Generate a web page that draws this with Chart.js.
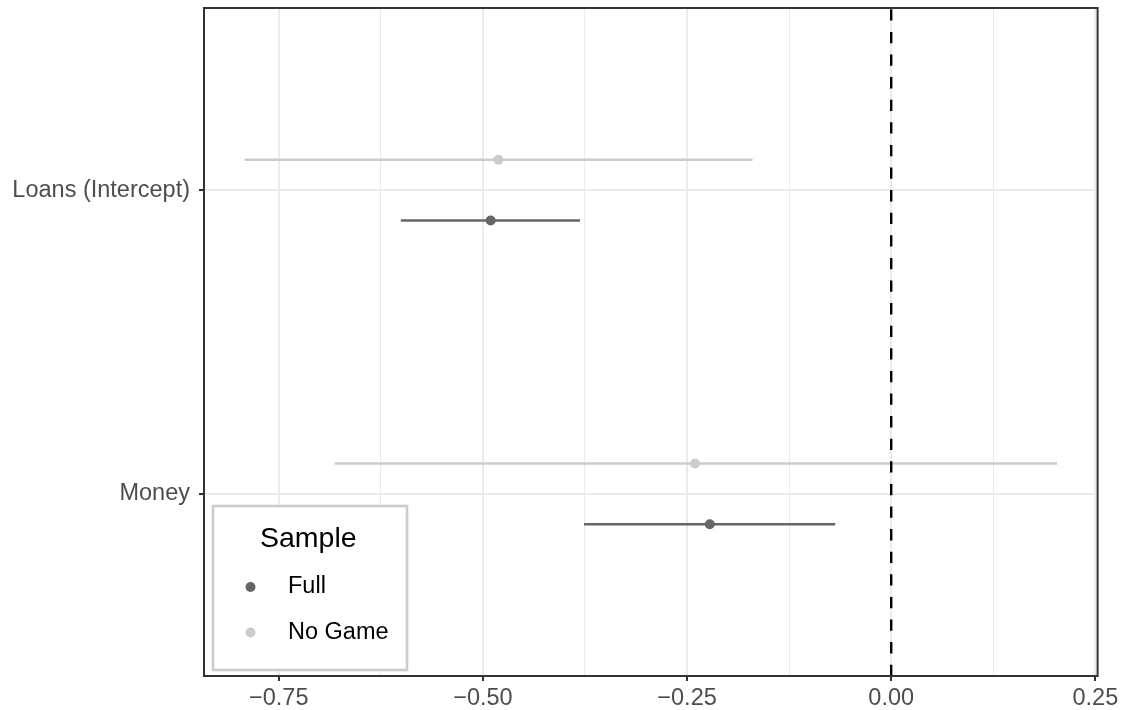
<!DOCTYPE html>
<html>
<head>
<meta charset="utf-8">
<script src="https://cdn.jsdelivr.net/npm/chart.js@4/dist/chart.umd.min.js"></script>
<style>
  html, body { margin: 0; padding: 0; background: #ffffff; }
  #wrap { width: 1122px; height: 710px; position: relative; }
</style>
</head>
<body>
<div id="wrap"><canvas id="chart" width="1122" height="710"></canvas></div>
<script>
// Model terms (top to bottom) and the two samples compared
const terms = ['Loans (Intercept)', 'Money'];
const samples = ['Full', 'No Game'];
const sampleColors = ['#666666', '#cccccc'];

// Estimates with lower / upper interval bounds, one entry per term
const fullEstimate = [-0.4905, -0.2222];
const fullLower = [-0.6005, -0.3762];
const fullUpper = [-0.3811, -0.0686];

const noGameEstimate = [-0.4812, -0.2402];
const noGameLower = [-0.7918, -0.6816];
const noGameUpper = [-0.1698, 0.2030];

// Axis ticks
const xMajorTicks = [-0.75, -0.5, -0.25, 0, 0.25];
const xMinorTicks = [-0.625, -0.375, -0.125, 0.125];
const referenceLine = 0;

const FONT = "'Liberation Sans', Arial, Helvetica, sans-serif";
const DODGE = 0.1;
const PANEL_LEFT = 204;
const PANEL_WIDTH = 893.6;
const POINT_RADIUS = 5;

function seriesPoints(est, lo, hi, shift) {
  return terms.map((t, i) => ({ x: est[i], y: i + 1 + shift, lo: lo[i], hi: hi[i] }));
}

// x range: data extent padded by 5% on both sides
const allLo = Math.min(...fullLower, ...noGameLower);
const allHi = Math.max(...fullUpper, ...noGameUpper);
const span = allHi - allLo;
const xMin = allLo - span * 0.05;
const xMax = allHi + span * 0.05;

const isMajor = v => xMajorTicks.some(t => Math.abs(t - v) < 1e-9);

// Horizontal interval segments behind the points
const intervalPlugin = {
  id: 'intervals',
  beforeDatasetsDraw(chart) {
    const { ctx, chartArea: a, scales: { x, y } } = chart;
    ctx.save();
    ctx.beginPath();
    ctx.rect(a.left, a.top, a.right - a.left, a.bottom - a.top);
    ctx.clip();
    chart.data.datasets.forEach(ds => {
      ctx.strokeStyle = ds.backgroundColor;
      ctx.lineWidth = 2.6;
      ctx.lineCap = 'butt';
      ds.data.forEach(p => {
        const py = y.getPixelForValue(p.y);
        ctx.beginPath();
        ctx.moveTo(x.getPixelForValue(p.lo), py);
        ctx.lineTo(x.getPixelForValue(p.hi), py);
        ctx.stroke();
      });
    });
    ctx.restore();
  }
};

// Dashed reference line, legend box and panel border on top
const overlayPlugin = {
  id: 'overlay',
  afterDatasetsDraw(chart) {
    const { ctx, chartArea: a, scales: { x } } = chart;
    ctx.save();

    // dashed zero line
    const zx = x.getPixelForValue(referenceLine);
    ctx.strokeStyle = '#000000';
    ctx.lineWidth = 2.4;
    ctx.setLineDash([11.3, 11.3]);
    ctx.beginPath();
    ctx.moveTo(zx, a.bottom);
    ctx.lineTo(zx, a.top);
    ctx.stroke();
    ctx.setLineDash([]);

    // legend
    const lx = a.left + 9, ly = a.bottom - 170, lw = 194, lh = 164;
    ctx.fillStyle = '#ffffff';
    ctx.fillRect(lx, ly, lw, lh);
    ctx.strokeStyle = '#cccccc';
    ctx.lineWidth = 2.7;
    ctx.strokeRect(lx, ly, lw, lh);

    ctx.fillStyle = '#000000';
    ctx.font = `28.5px ${FONT}`;
    ctx.textAlign = 'left';
    ctx.textBaseline = 'middle';
    ctx.fillText('Sample', lx + 47, ly + 33);

    ctx.font = `23.5px ${FONT}`;
    chart.data.datasets.forEach((ds, i) => {
      const cy = ly + 81 + i * 45.5;
      ctx.fillStyle = ds.backgroundColor;
      ctx.beginPath();
      ctx.arc(lx + 37.5, cy, POINT_RADIUS, 0, Math.PI * 2);
      ctx.fill();
      ctx.fillStyle = '#000000';
      ctx.fillText(ds.label, lx + 75, cy);
    });

    // panel border
    ctx.strokeStyle = '#333333';
    ctx.lineWidth = 2;
    ctx.strokeRect(a.left, a.top, a.right - a.left, a.bottom - a.top);
    ctx.restore();
  }
};

new Chart(document.getElementById('chart'), {
  type: 'scatter',
  data: {
    datasets: [
      {
        label: samples[0],
        data: seriesPoints(fullEstimate, fullLower, fullUpper, DODGE),
        backgroundColor: sampleColors[0],
        borderColor: sampleColors[0],
        pointRadius: POINT_RADIUS,
        pointBorderWidth: 0,
        pointHoverRadius: POINT_RADIUS
      },
      {
        label: samples[1],
        data: seriesPoints(noGameEstimate, noGameLower, noGameUpper, -DODGE),
        backgroundColor: sampleColors[1],
        borderColor: sampleColors[1],
        pointRadius: POINT_RADIUS,
        pointBorderWidth: 0,
        pointHoverRadius: POINT_RADIUS
      }
    ]
  },
  options: {
    responsive: false,
    animation: false,
    events: [],
    layout: { padding: { left: 0, right: 1122 - PANEL_LEFT - PANEL_WIDTH, top: 8, bottom: 0 } },
    plugins: {
      legend: { display: false },
      tooltip: { enabled: false }
    },
    scales: {
      x: {
        type: 'linear',
        min: xMin,
        max: xMax,
        afterBuildTicks(scale) {
          scale.ticks = [...xMajorTicks, ...xMinorTicks]
            .filter(v => v >= xMin && v <= xMax)
            .sort((p, q) => p - q)
            .map(v => ({ value: v, major: isMajor(v) }));
        },
        afterFit(scale) {
          scale.height = 34;
          scale.paddingLeft = 0;
          scale.paddingRight = 0;
        },
        border: { display: false },
        grid: {
          color: '#ebebeb',
          lineWidth: c => (c.tick && isMajor(c.tick.value) ? 2 : 1),
          drawTicks: true,
          tickLength: 5,
          tickWidth: 2,
          tickColor: c => (c.tick && isMajor(c.tick.value) ? '#333333' : 'rgba(0,0,0,0)')
        },
        ticks: {
          autoSkip: false,
          maxRotation: 0,
          padding: 3,
          color: '#4d4d4d',
          font: { family: FONT, size: 23.5 },
          callback: v => (isMajor(v) ? (v < 0 ? '\u2212' : '') + Math.abs(v).toFixed(2) : '')
        }
      },
      y: {
        type: 'linear',
        min: 0.4,
        max: terms.length + 0.6,
        reverse: true,
        afterBuildTicks(scale) {
          scale.ticks = terms.map((t, i) => ({ value: i + 1 }));
        },
        afterFit(scale) {
          scale.width = PANEL_LEFT;
          scale.paddingTop = 0;
          scale.paddingBottom = 0;
        },
        border: { display: false },
        grid: {
          color: '#ebebeb',
          lineWidth: 2,
          drawTicks: true,
          tickLength: 5,
          tickWidth: 2,
          tickColor: '#333333'
        },
        ticks: {
          autoSkip: false,
          padding: 9,
          color: '#4d4d4d',
          font: { family: FONT, size: 23.5 },
          callback: v => terms[Math.round(v) - 1] || ''
        }
      }
    }
  },
  plugins: [intervalPlugin, overlayPlugin]
});
</script>
</body>
</html>
